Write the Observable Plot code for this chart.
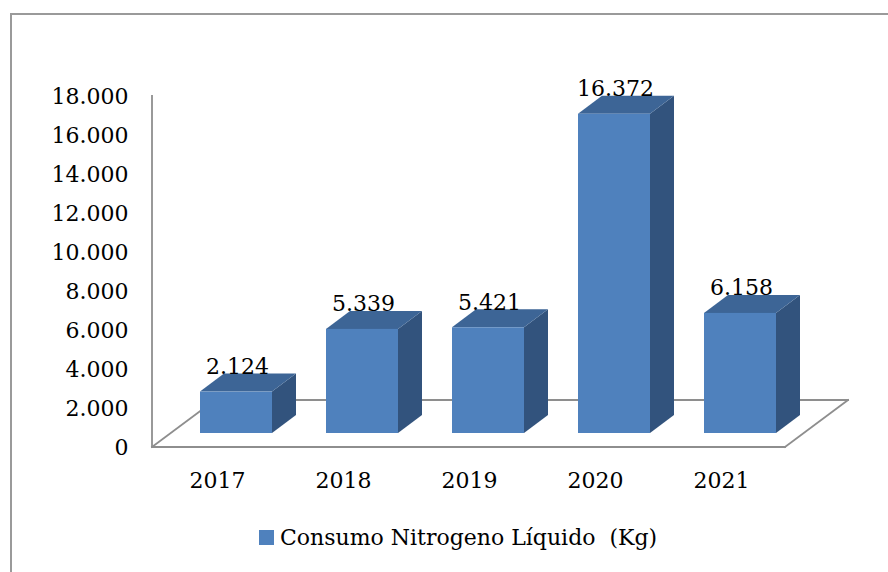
<!DOCTYPE html>
<html><head><meta charset="utf-8">
<script src="https://cdn.jsdelivr.net/npm/d3@7"></script>
<script src="https://cdn.jsdelivr.net/npm/@observablehq/plot@0.6"></script>
<style>
body{margin:0;background:#fff;}
#wrap{position:relative;width:888px;height:572px;overflow:hidden;font-family:"DejaVu Serif",serif;background:#fff;}
#border{position:absolute;left:10px;top:13px;width:900px;height:600px;border:2px solid #9a9a9a;box-sizing:border-box;}
#chart{position:absolute;left:0;top:0;}
#legend{position:absolute;left:259px;top:525px;display:flex;align-items:center;font-size:22px;color:#000;white-space:pre;}
#legend .sw{width:15px;height:15px;background:#4f81bd;margin-right:6px;}
</style></head>
<body>
<div id="wrap"><div id="border"></div><div id="chart"></div>
<div id="legend"><div class="sw"></div><span id="legtext"></span></div></div>
<script>
const years = ["2017", "2018", "2019", "2020", "2021"];
const consumo = [2124, 5339, 5421, 16372, 6158];
const yTicks = [0, 2000, 4000, 6000, 8000, 10000, 12000, 14000, 16000, 18000];
const seriesName = "Consumo Nitrogeno Líquido  (Kg)";

const table = years.map((year, i) => ({year, value: consumo[i]}));
const fmt = d3.formatLocale({thousands: ".", decimal: ",", grouping: [3], currency: ["", ""]}).format(",");

// 3D styling (pixel offsets)
const floorDX = 63, floorDY = -47;
const barOffX = 19, barOffY = -14;
const barDX = 24, barDY = -18;
const inset = 27;
const frontCol = "#4f81bd", topCol = "#3d6596", sideCol = "#32537d";
const lineCol = "#8e8e8e";

function floorRender(index, scales, values, dims) {
  const g = d3.create("svg:g");
  const x0 = dims.marginLeft, x1 = dims.width - dims.marginRight;
  const y0 = scales.y(0), yTop = scales.y(yTicks[yTicks.length - 1]);
  const segs = [
    [x0, y0, x1, y0],
    [x0 + floorDX, y0 + floorDY, x1 + floorDX, y0 + floorDY],
    [x0, y0, x0 + floorDX, y0 + floorDY],
    [x1, y0, x1 + floorDX, y0 + floorDY],
    [x0, y0, x0, yTop]
  ];
  for (const [a, b, c, d] of segs) {
    g.append("line").attr("x1", a).attr("y1", b).attr("x2", c).attr("y2", d)
      .attr("stroke", lineCol).attr("stroke-width", 1.8).attr("stroke-linecap", "square");
  }
  return g.node();
}

function barsRender(index, scales, values, dims) {
  const g = d3.create("svg:g");
  let bw = scales.x.bandwidth;
  if (typeof bw === "function") bw = bw();
  if (!(bw > 0)) bw = (dims.width - dims.marginLeft - dims.marginRight) / years.length;
  for (const i of index) {
    const d = table[i];
    const xl = scales.x(d.year) + inset + barOffX;
    const xr = scales.x(d.year) + bw - inset + barOffX;
    const yb = scales.y(0) + barOffY;
    const yt = scales.y(d.value) + barOffY;
    g.append("polygon").attr("points", [[xr, yb], [xr + barDX, yb + barDY], [xr + barDX, yt + barDY], [xr, yt]].join(" ")).attr("fill", sideCol);
    g.append("polygon").attr("points", [[xl, yt], [xr, yt], [xr + barDX, yt + barDY], [xl + barDX, yt + barDY]].join(" ")).attr("fill", topCol);
    g.append("rect").attr("x", xl).attr("y", yt).attr("width", xr - xl).attr("height", yb - yt).attr("fill", frontCol);
  }
  return g.node();
}

const plot = Plot.plot({
  width: 888,
  height: 505,
  marginLeft: 152,
  marginRight: 103,
  marginTop: 96,
  marginBottom: 58,
  style: {fontFamily: "'DejaVu Serif', serif", fontSize: "22px", color: "#000", background: "transparent"},
  x: {type: "band", domain: years, padding: 0, label: null},
  y: {domain: [0, 18000], label: null},
  marks: [
    Plot.ruleY([0], {render: floorRender}),
    Plot.barY(table, {x: "year", y: "value", render: barsRender}),
    Plot.text(table, {x: "year", y: "value", text: d => fmt(d.value), dx: barOffX + 1, dy: barOffY + barDY - 7, fontSize: 22, fill: "#000"}),
    Plot.axisY({ticks: yTicks, tickFormat: fmt, tickSize: 0, tickPadding: 24, label: null, fontSize: 22}),
    Plot.axisX({tickSize: 0, tickPadding: 25, label: null, fontSize: 22})
  ]
});
document.getElementById("chart").appendChild(plot);
document.getElementById("legtext").textContent = seriesName;
</script>
</body></html>
